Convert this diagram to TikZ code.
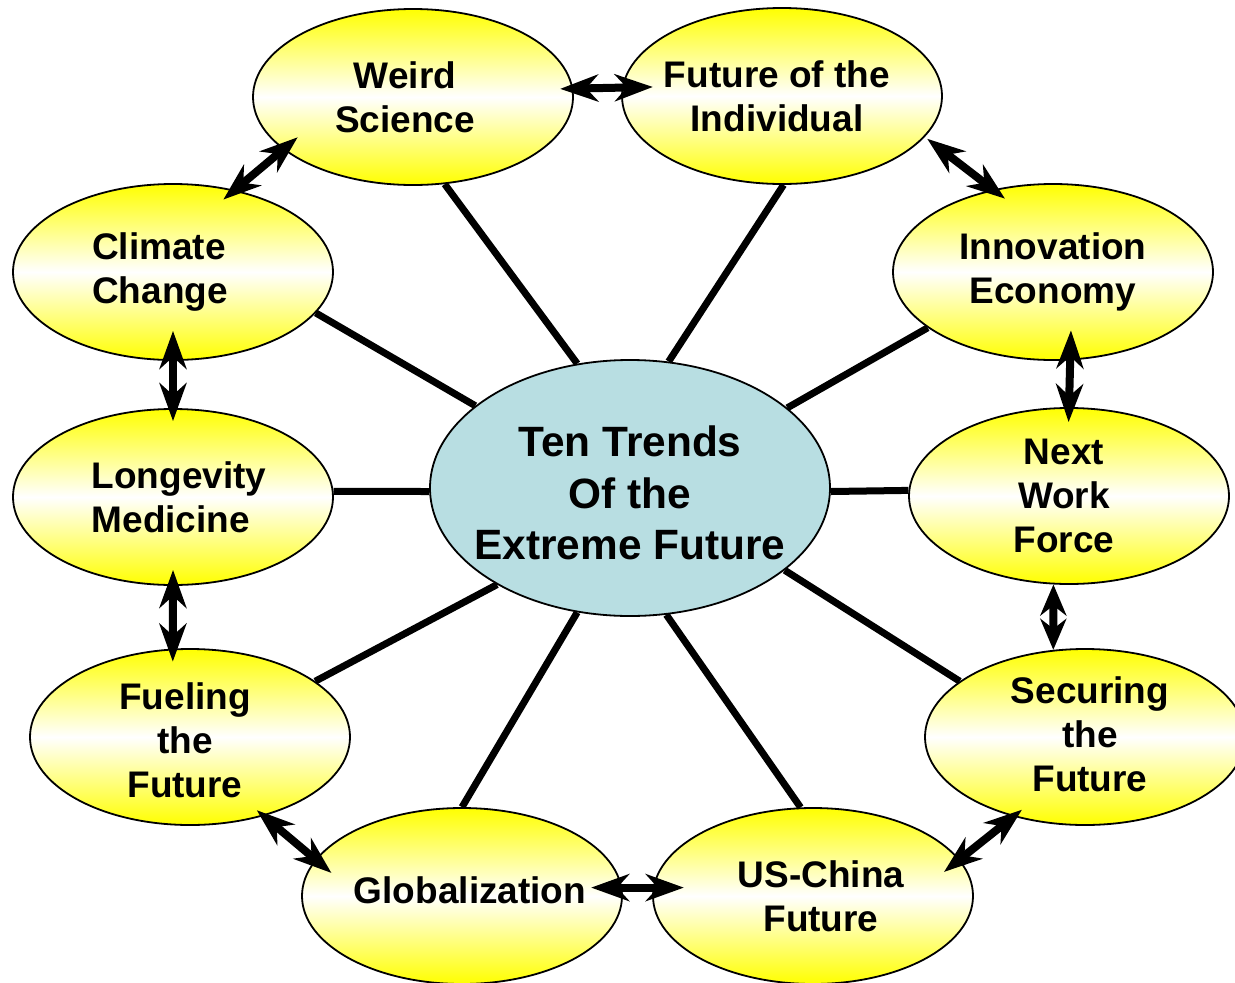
\documentclass[tikz,border=0pt]{standalone}
\usepackage{fontspec}
\setmainfont{Liberation Sans}
\usetikzlibrary{shapes.geometric,arrows.meta}
\definecolor{hubblue}{RGB}{184,222,226}
\begin{document}
\begin{tikzpicture}[x=1pt,y=-1pt,
  trend/.style={ellipse, draw=black, line width=1.8pt, minimum width=320pt, minimum height=176pt, inner sep=0pt, top color=yellow, bottom color=yellow, middle color=white},
  hub/.style={ellipse, draw=black, line width=1.8pt, minimum width=400pt, minimum height=256pt, inner sep=0pt, fill=hubblue},
  tlabel/.style={font=\bfseries\fontsize{37}{44}\selectfont, align=center, inner sep=0pt},
  hlabel/.style={font=\bfseries\fontsize{42.4}{51.5}\selectfont, align=center, inner sep=0pt},
  spoke/.style={line width=7pt},
  link/.style={line width=8pt, {Stealth[length=38pt,width=27pt,inset=12pt]}-{Stealth[length=38pt,width=27pt,inset=12pt]}},
  shortlink/.style={line width=8pt, {Stealth[length=31pt,width=26pt,inset=10pt]}-{Stealth[length=31pt,width=26pt,inset=10pt]}}
]
\useasboundingbox (0,0) rectangle (1235,983);
\clip (0,0) rectangle (1235,983);

\node[hub, label={[hlabel, yshift=-5pt]center:Ten Trends\\Of the\\Extreme Future}] (c) at (630,488) {};

\node[trend, label={[tlabel, xshift=-8pt]center:Weird\\Science}] (ws) at (413,97) {};
\node[trend, label={[tlabel, xshift=-5pt]center:Future of the\\Individual}] (fi) at (782,96) {};
\node[trend, label={[tlabel, align=left, xshift=-13pt]center:Climate\\Change}] (cc) at (173,272) {};
\node[trend, label={[tlabel]center:Innovation\\Economy}] (ie) at (1053,272) {};
\node[trend, label={[tlabel, align=left, xshift=6pt]center:Longevity\\Medicine}] (lm) at (173,497) {};
\node[trend, label={[tlabel, xshift=-5pt]center:Next\\Work\\Force}] (nw) at (1069,496) {};
\node[trend, label={[tlabel, xshift=-5pt, yshift=-3pt]center:Fueling\\the\\Future}] (ff) at (190,737) {};
\node[trend, label={[tlabel, xshift=5pt, yshift=3pt]center:Securing\\the\\Future}] (st) at (1085,737) {};
\node[trend, label={[tlabel, xshift=8pt, yshift=6pt]center:Globalization}] (gl) at (462,896) {};
\node[trend, label={[tlabel, xshift=8pt]center:US-China\\Future}] (us) at (813,896) {};

\draw[spoke] (c.113) -- (ws.-70);
\draw[spoke] (c.73) -- (fi.-89);
\draw[spoke] (c.152) -- (cc.-16);
\draw[spoke] (c.27) -- (ie.204);
\draw[spoke] (c.181) -- (lm.2);
\draw[spoke] (c.-1) -- (nw.178);
\draw[spoke] (c.216) -- (ff.24);
\draw[spoke] (c.-28) -- (st.156);
\draw[spoke] (c.-113) -- (gl.90);
\draw[spoke] (c.-74) -- (us.98);

\draw[link, shorten <=-13pt, shorten >=-31pt] (ws.3) -- (fi.177);
\draw[link, shorten <=-19pt, shorten >=-15pt] (ws.202) -- (cc.53);
\draw[link, shorten <=3pt, shorten >=-15pt] (fi.-16) -- (ie.126);
\draw[link, shorten <=-30pt, shorten >=-13pt] (cc.-90) -- (lm.90);
\draw[link, shorten <=-30pt, shorten >=-15pt] (ie.-79) -- (nw.90);
\draw[link, shorten <=-16pt, shorten >=-13pt] (lm.-90) -- (ff.101);
\draw[shortlink] (nw.-100) -- (st.110);
\draw[link, shorten <=-9pt, shorten >=-21pt] (ff.-47) -- (gl.166);
\draw[link, shorten <=-31pt, shorten >=-31pt] (gl.3) -- (us.177);
\draw[link, shorten <=-11pt, shorten >=-20pt] (st.228) -- (us.14);
\end{tikzpicture}
\end{document}
